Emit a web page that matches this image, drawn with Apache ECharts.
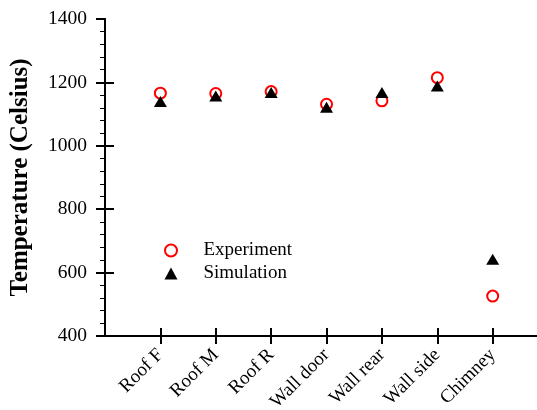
<!DOCTYPE html>
<html><head><meta charset="utf-8">
<script src="https://cdn.jsdelivr.net/npm/echarts@6/dist/echarts.min.js"></script>
<style>html,body{margin:0;padding:0;background:#fff}#c{width:537px;height:410px}</style>
</head><body><div id="c"></div>
<script>
const categories = ['Roof F','Roof M','Roof R','Wall door','Wall rear','Wall side','Chimney'];
const experiment = [1166, 1165, 1171, 1131, 1142, 1215, 526];
const simulation = [1140, 1157, 1168, 1122, 1168, 1189, 642];
const yTicks = [400, 600, 800, 1000, 1200, 1400];

const font = 'Liberation Serif';
const pos = categories.map((c, i) => i + 1);
const chart = echarts.init(document.getElementById('c'), null, {renderer: 'canvas'});
const axisLine = {lineStyle: {color: '#000', width: 2}};
chart.setOption({
  animation: false,
  backgroundColor: '#fff',
  grid: {left: 105, right: 0, top: 19, bottom: 74, containLabel: false, outerBoundsMode: 'none'},
  legend: {
    orient: 'vertical', left: 159, top: 236, itemWidth: 13, itemHeight: 12, itemGap: 4,
    data: ['Experiment', 'Simulation'],
    textStyle: {fontFamily: font, fontSize: 19, color: '#000', padding: [0, 0, 0, 21]}
  },
  xAxis: [
    {type: 'value', min: 0, max: 7.8, position: 'bottom',
     axisLine: axisLine, splitLine: {show: false},
     axisTick: {show: true, inside: false, length: 8, lineStyle: {color: '#000', width: 2}, customValues: pos},
     axisLabel: {show: true, customValues: pos, rotate: 45, margin: 16, fontFamily: font, fontSize: 19, color: '#000',
       formatter: v => categories[Math.round(v) - 1] || ''}},
    {type: 'value', min: 0, max: 7.8, position: 'bottom',
     axisLine: axisLine, splitLine: {show: false},
     axisTick: {show: true, inside: true, length: 8, lineStyle: {color: '#000', width: 2}, customValues: pos},
     axisLabel: {show: false}}
  ],
  yAxis: [
    {type: 'value', min: 400, max: 1400, interval: 200, position: 'left',
     name: 'Temperature (Celsius)', nameLocation: 'middle', nameGap: 72,
     nameTextStyle: {fontFamily: font, fontSize: 25, fontWeight: 'bold', color: '#000'},
     axisLine: axisLine, splitLine: {show: false},
     axisTick: {show: true, inside: false, length: 9, lineStyle: {color: '#000', width: 2}},
     minorTick: {show: true, splitNumber: 5, length: 5, lineStyle: {color: '#000', width: 1}},
     axisLabel: {margin: 18, fontFamily: font, fontSize: 19.5, color: '#000',
       customValues: yTicks, formatter: v => String(v)}},
    {type: 'value', min: 400, max: 1400, interval: 200, position: 'left',
     axisLine: axisLine, splitLine: {show: false},
     axisTick: {show: true, inside: true, length: 9, lineStyle: {color: '#000', width: 2}, customValues: [600, 800, 1000, 1200]},
     axisLabel: {show: false}}
  ],
  series: [
    {name: 'Experiment', type: 'scatter', symbol: 'emptyCircle', symbolSize: 11,
     itemStyle: {color: '#ff0000', borderColor: '#ff0000', borderWidth: 1.8, opacity: 1},
     data: experiment.map((v, i) => [pos[i], v])},
    {name: 'Simulation', type: 'scatter', symbol: 'triangle', symbolSize: [13, 11],
     itemStyle: {color: '#000', opacity: 1},
     data: simulation.map((v, i) => [pos[i], v])}
  ]
});
</script></body></html>
